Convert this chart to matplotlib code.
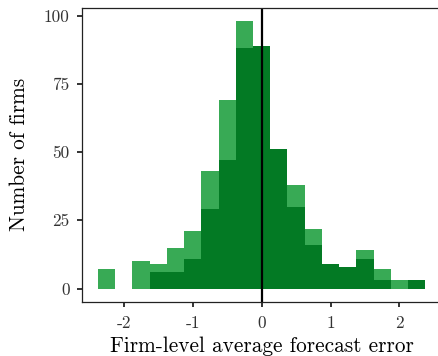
import numpy as np
import matplotlib
matplotlib.use("Agg")
import matplotlib.pyplot as plt

plt.rcParams['font.family'] = ['cmr10', 'DejaVu Serif']
plt.rcParams['axes.unicode_minus'] = False
plt.rcParams['mathtext.fontset'] = 'cm'

# bin centres (width 0.25) and counts
centers = [-2.25, -2.0, -1.75, -1.5, -1.25, -1.0, -0.75, -0.5, -0.25, 0.0,
           0.25, 0.5, 0.75, 1.0, 1.25, 1.5, 1.75, 2.0, 2.25]
all_firms = [7, 0, 10, 9, 15, 21, 43, 69, 98, 89,
             51, 38, 22, 9, 8, 14, 7, 3, 3]
sub_firms = [0, 0, 0, 6, 6, 11, 29, 47, 88, 89,
             51, 30, 16, 9, 8, 11, 3, 0, 3]
xticks = [-2, -1, 0, 1, 2]
xticklabels = ["-2", "-1", "0", "1", "2"]
yticks = [0, 25, 50, 75, 100]

light = "#38aa55"
dark = "#037a24"

fig = plt.figure(figsize=(4.39, 3.56), dpi=100)
ax = fig.add_axes([0.186, 0.152, 0.82, 0.826])

ax.bar(centers, all_firms, width=0.25, color=light, linewidth=0)
ax.bar(centers, sub_firms, width=0.25, color=dark, linewidth=0)
ax.axvline(0, color="black", linewidth=1.6)

ax.set_xlim(-2.6125, 2.6125)
ax.set_ylim(-4.9, 102.9)
ax.set_xticks(xticks)
ax.set_xticklabels(xticklabels)
ax.set_yticks(yticks)

for s in ax.spines.values():
    s.set_color("#222222")
    s.set_linewidth(0.9)
ax.tick_params(axis="both", direction="out", length=3.6, width=1.4,
               color="#333333", labelsize=12.5, labelcolor="#333333")
ax.tick_params(axis="x", pad=6.5)
ax.tick_params(axis="y", pad=5)

ax.set_xlabel("Firm-level average forecast error", fontsize=15.3, labelpad=3.5)
ax.set_ylabel("Number of firms", fontsize=15.3, labelpad=11)

fig.savefig("out.png", dpi=100)
